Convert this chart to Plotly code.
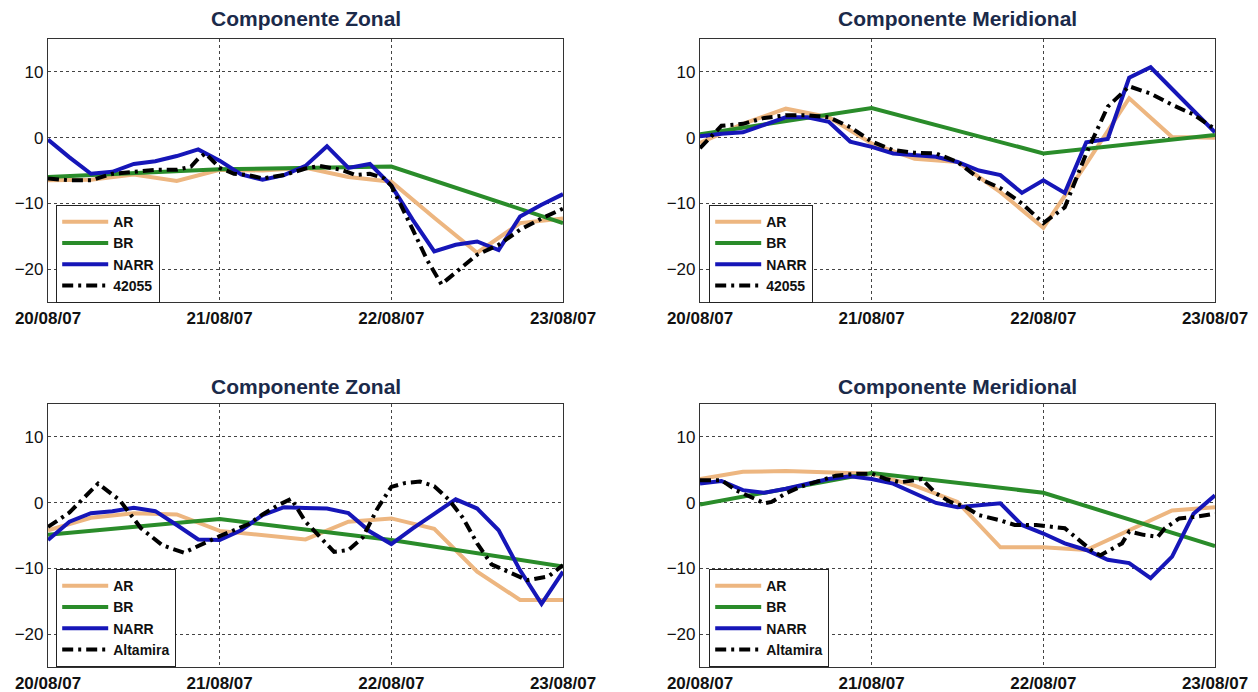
import pandas as pd
import plotly.graph_objects as go

# ---------------- data ----------------
BASE = pd.Timestamp("2007-08-20 00:00")
day_ticks = ["2007-08-20", "2007-08-21", "2007-08-22", "2007-08-23"]
day_labels = ["20/08/07", "21/08/07", "22/08/07", "23/08/07"]
y_ticks = [-20, -10, 0, 10]

hours_ar = list(range(0, 73, 6))      # AR: 6-hourly
hours_br = [0, 24, 48, 72]            # BR: daily
hours_narr = list(range(0, 73, 3))    # NARR: 3-hourly

# Buoy 42055
hours_42055_u = [0, 3, 6, 9, 12, 15, 18, 20, 21, 22, 24, 26, 28, 30, 33, 36, 38, 41, 43, 45,
                 47, 48, 51, 53, 55, 58, 60, 63, 66, 69, 72]
b42055_u = [-6.2, -6.5, -6.5, -5.5, -5.2, -4.9, -4.9, -4.4, -3.2, -2.4, -4.6, -5.5, -5.7, -6.2,
            -5.7, -4.7, -4.3, -4.9, -5.7, -5.5, -6.2, -7.3, -14.0, -18.6, -22.3, -19.6, -17.8,
            -16.3, -14.0, -12.3, -10.8]
ar_42055_u = [-6.5, -6.4, -5.6, -6.6, -4.9, -5.0, -4.6, -6.0, -6.7, -12.2, -17.5, -13.0, -12.3]
br_42055_u = [-6.0, -4.8, -4.4, -13.0]
narr_42055_u = [-0.3, -3.0, -5.5, -5.2, -4.0, -3.6, -2.8, -1.8, -3.5, -5.6, -6.4, -5.7, -4.3,
                -1.3, -4.6, -4.0, -7.3, -12.5, -17.3, -16.3, -15.8, -17.1, -12.0, -10.2, -8.6]

hours_42055_v = [0, 3, 6, 9, 12, 15, 18, 21, 24, 27, 30, 33, 36, 39, 42, 45, 48, 51, 54, 57,
                 60, 63, 66, 69, 72]
b42055_v = [-1.6, 1.8, 2.1, 3.0, 3.4, 3.4, 3.1, 1.6, -0.6, -1.9, -2.3, -2.4, -3.7, -6.2, -7.7,
            -10.0, -13.0, -10.6, -2.4, 4.7, 7.8, 6.7, 5.0, 3.5, 1.3]
ar_42055_v = [-0.8, 2.1, 4.4, 3.1, -0.9, -3.2, -3.7, -8.3, -13.7, -4.0, 6.0, 0.1, 0.0]
br_42055_v = [0.5, 4.5, -2.4, 0.4]
narr_42055_v = [0.2, 0.6, 0.8, 1.9, 3.1, 3.1, 2.4, -0.6, -1.4, -2.4, -2.7, -2.9, -3.7, -5.0,
                -5.7, -8.4, -6.5, -8.4, -0.7, -0.2, 9.1, 10.7, 7.4, 4.2, 0.8]

# Altamira
hours_alt_u = [0, 3, 7, 10, 13, 16, 19, 22, 24, 28, 30, 32, 34, 36, 38, 40, 42, 44, 46, 48, 50,
               52, 54, 56, 58, 60, 62, 65, 67, 70, 72]
alt_u = [-3.7, -1.5, 2.9, 0.4, -3.9, -6.5, -7.6, -6.0, -5.1, -3.3, -1.8, -0.5, 0.6, -2.9, -5.2,
         -7.5, -7.2, -5.3, -1.0, 2.4, 3.0, 3.2, 2.5, 0.5, -2.3, -6.2, -9.4, -10.8, -11.8, -11.2,
         -9.5]
ar_alt_u = [-4.2, -2.3, -1.6, -1.8, -4.3, -5.0, -5.6, -2.9, -2.4, -4.0, -10.5, -14.8, -14.8]
br_alt_u = [-4.9, -2.5, -5.7, -9.7]
narr_alt_u = [-5.7, -2.9, -1.6, -1.3, -0.8, -1.3, -3.4, -5.6, -5.7, -4.2, -1.9, -0.7, -0.8, -0.9,
              -1.6, -4.4, -6.3, -3.9, -1.7, 0.5, -0.9, -4.2, -10.3, -15.4, -10.5]

hours_alt_v = [0, 3, 5, 8, 9, 10, 12, 14, 16, 19, 22, 24, 26, 28, 30, 31, 33, 35, 37, 39, 42,
               44, 47, 49, 51, 53, 55, 56, 59, 60, 62, 64, 65, 67, 69, 72]
alt_v = [3.4, 3.4, 1.9, 0.3, -0.1, 0.1, 1.4, 2.4, 3.1, 4.1, 4.4, 4.4, 3.6, 3.1, 3.4, 3.6, 1.4,
         0.1, -0.6, -1.9, -2.7, -3.4, -3.4, -3.7, -3.9, -5.7, -7.5, -8.0, -6.2, -4.4, -4.9, -5.2,
         -3.9, -2.4, -2.2, -1.7]
ar_alt_v = [3.6, 4.7, 4.8, 4.6, 4.4, 2.6, 0.1, -6.8, -6.8, -7.2, -4.2, -1.2, -0.7]
br_alt_v = [-0.3, 4.5, 1.5, -6.6]
narr_alt_v = [2.9, 3.3, 1.9, 1.5, 2.1, 2.9, 3.6, 4.0, 3.6, 2.9, 1.4, -0.05, -0.7, -0.4, -0.1,
              -3.4, -4.7, -6.2, -7.2, -8.7, -9.2, -11.5, -8.2, -1.7, 1.1]

titles = ["Componente Zonal", "Componente Meridional", "Componente Zonal", "Componente Meridional"]

# ---------------- styling ----------------
C_AR = "#EDB680"
C_BR = "#2A8C2A"
C_NARR = "#1616B8"
C_OBS = "#000000"
TITLE_COLOR = "#1B2A4A"
LW = 4
OBS_DASH = "11px,5px,3px,5px"
TICK_FONT = "Arial, Liberation Sans, sans-serif"
LEGEND_FONT = "Liberation Sans Narrow, Arial Narrow, Liberation Sans, Arial, sans-serif"


def to_time(hours):
    return [BASE + pd.Timedelta(hours=h) for h in hours]


panels = [
    ("42055", hours_42055_u, b42055_u, ar_42055_u, br_42055_u, narr_42055_u),
    ("42055", hours_42055_v, b42055_v, ar_42055_v, br_42055_v, narr_42055_v),
    ("Altamira", hours_alt_u, alt_u, ar_alt_u, br_alt_u, narr_alt_u),
    ("Altamira", hours_alt_v, alt_v, ar_alt_v, br_alt_v, narr_alt_v),
]

W, H = 1258, 692
x_dom = [[48 / W, 563 / W], [700 / W, 1215 / W]] * 2
y_dom = [[1 - 302 / H, 1 - 39 / H]] * 2 + [[1 - 667 / H, 1 - 404 / H]] * 2
legend_pos = [(56 / W, 1 - 205 / H), (709 / W, 1 - 205 / H),
              (56 / W, 1 - 569 / H), (709 / W, 1 - 569 / H)]
title_y = [1 - 19 / H, 1 - 19 / H, 1 - 386 / H, 1 - 386 / H]

fig = go.Figure()

for i, (obs_name, obs_h, obs, ar, br, narr) in enumerate(panels):
    n = "" if i == 0 else str(i + 1)
    xa, ya, lg = "x" + n, "y" + n, "legend" + n
    fig.add_trace(go.Scatter(x=to_time(hours_ar), y=ar, name="AR", mode="lines",
                             line=dict(color=C_AR, width=LW), xaxis=xa, yaxis=ya, legend=lg))
    fig.add_trace(go.Scatter(x=to_time(hours_br), y=br, name="BR", mode="lines",
                             line=dict(color=C_BR, width=LW), xaxis=xa, yaxis=ya, legend=lg))
    fig.add_trace(go.Scatter(x=to_time(hours_narr), y=narr, name="NARR", mode="lines",
                             line=dict(color=C_NARR, width=LW), xaxis=xa, yaxis=ya, legend=lg))
    fig.add_trace(go.Scatter(x=to_time(obs_h), y=obs, name=obs_name, mode="lines",
                             line=dict(color=C_OBS, width=LW, dash=OBS_DASH),
                             xaxis=xa, yaxis=ya, legend=lg))

    fig.update_layout({
        "xaxis" + n: dict(
            domain=x_dom[i], anchor=ya, type="date", automargin=False,
            range=[day_ticks[0], day_ticks[-1]],
            tickmode="array", tickvals=day_ticks, ticktext=day_labels,
            showgrid=True, gridcolor="#444444", griddash="dot", gridwidth=1,
            showline=True, mirror=True, linecolor="#333333", linewidth=1.2,
            ticks="", zeroline=False,
            tickfont=dict(family=TICK_FONT, size=17, color="#111111", weight="bold"),
            fixedrange=True,
        ),
        "yaxis" + n: dict(
            domain=y_dom[i], anchor=xa, range=[-25, 15], automargin=False,
            tickmode="array", tickvals=y_ticks,
            showgrid=True, gridcolor="#444444", griddash="dot", gridwidth=1,
            showline=True, mirror=True, linecolor="#333333", linewidth=1.2,
            ticks="", zeroline=False,
            tickfont=dict(family=TICK_FONT, size=17, color="#111111"),
            fixedrange=True,
        ),
        lg: dict(
            x=legend_pos[i][0], y=legend_pos[i][1], xanchor="left", yanchor="top",
            bgcolor="white", bordercolor="#222222", borderwidth=1.2,
            font=dict(family=LEGEND_FONT, size=14, color="#111111", weight="bold"),
            tracegroupgap=0, itemwidth=46,
        ),
    })

    fig.add_annotation(
        text=titles[i], xref="paper", yref="paper",
        x=(x_dom[i][0] + x_dom[i][1]) / 2, y=title_y[i],
        xanchor="center", yanchor="middle", showarrow=False,
        font=dict(family=TICK_FONT, size=21, color=TITLE_COLOR, weight="bold"),
    )

fig.update_layout(
    width=W, height=H,
    margin=dict(l=0, r=0, t=0, b=0, autoexpand=False),
    paper_bgcolor="white", plot_bgcolor="white",
    showlegend=True,
)

fig.write_html("out.html", config={"displayModeBar": False})
